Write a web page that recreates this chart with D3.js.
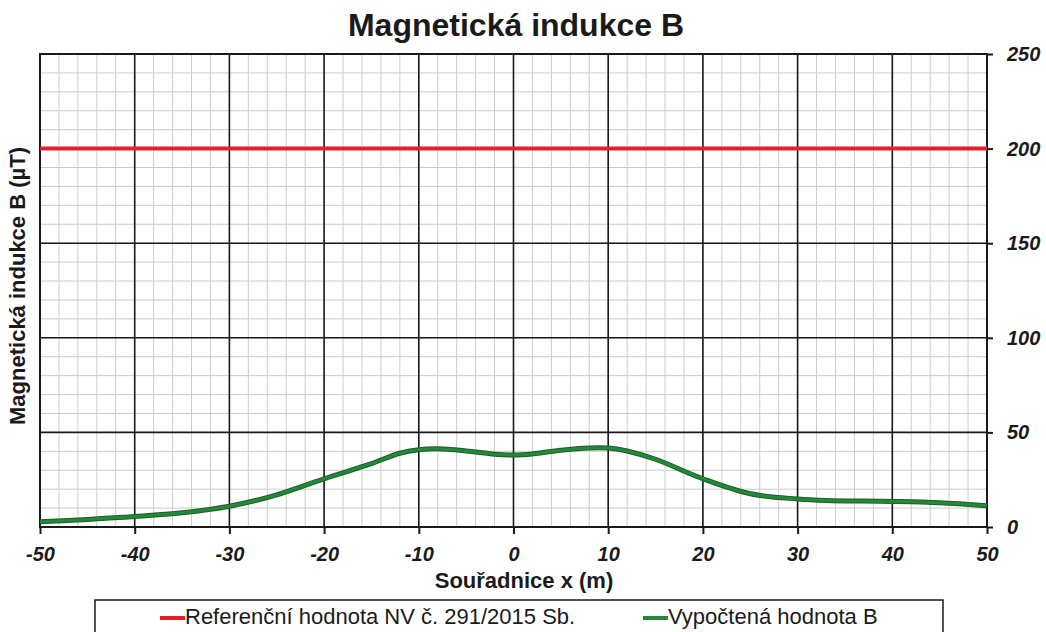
<!DOCTYPE html>
<html>
<head>
<meta charset="utf-8">
<script src="https://cdn.jsdelivr.net/npm/d3@7"></script>
<style>
  body { margin: 0; background: #fff; }
  svg { display: block; font-family: "Liberation Sans", Arial, sans-serif; }
</style>
</head>
<body>
<svg id="chart"></svg>
<script>
"use strict";

const W = 1046;
const H = 632;

// data
const xPos = [-50, -45, -40, -35, -30, -25, -20, -15, -12, -10, -8, -5, -2, 0, 2, 5, 8, 10, 12, 15, 20, 25, 30, 33, 40, 45, 50];
const bValues = [2.8, 4, 5.5, 7.5, 11, 17, 25.5, 33.5, 39, 40.8, 41.3, 40.2, 38.5, 38, 38.6, 40.6, 41.8, 41.8, 40.2, 35.8, 25.5, 17.6, 14.8, 14, 13.5, 12.8, 11.2];
const refX = [-50, 50];
const refValues = [200, 200];

const xTicks = [-50, -40, -30, -20, -10, 0, 10, 20, 30, 40, 50];
const yTicks = [0, 50, 100, 150, 200, 250];

const titleText = "Magnetická indukce B";
const xTitle = "Souřadnice x (m)";
const yTitle = "Magnetická indukce B (µT)";
const legendNames = ["Referenční hodnota NV č. 291/2015 Sb.", "Vypočtená hodnota B"];

const RED = "#e4202c";
const GREEN = "#23883a";

const pLeft = 40, pRight = 987, pTop = 54, pBottom = 527;

const svg = d3.select('#chart')
    .attr('width', W)
    .attr('height', H);

const x = d3.scaleLinear().domain([-50, 50]).range([pLeft, pRight]);
const y = d3.scaleLinear().domain([0, 250]).range([pBottom, pTop]);

// minor grid
const gridMinor = svg.append('g');
gridMinor.selectAll('line.vx')
    .data(d3.range(-50, 51, 2))
    .join('line')
    .attr('class', 'vx')
    .attr('x1', d => x(d)).attr('x2', d => x(d))
    .attr('y1', pTop).attr('y2', pBottom)
    .attr('stroke', '#cccccc')
    .attr('stroke-width', 1);
gridMinor.selectAll('line.hy')
    .data(d3.range(0, 251, 10))
    .join('line')
    .attr('class', 'hy')
    .attr('x1', pLeft).attr('x2', pRight)
    .attr('y1', d => y(d)).attr('y2', d => y(d))
    .attr('stroke', '#cccccc')
    .attr('stroke-width', 1);

// major grid
const gridMajor = svg.append('g');
gridMajor.selectAll('line.v')
    .data(xTicks)
    .join('line')
    .attr('class', 'v')
    .attr('x1', d => x(d)).attr('x2', d => x(d))
    .attr('y1', pTop).attr('y2', pBottom)
    .attr('stroke', '#1a1a1a')
    .attr('stroke-width', 1.6);
gridMajor.selectAll('line.h')
    .data(yTicks)
    .join('line')
    .attr('class', 'h')
    .attr('x1', pLeft).attr('x2', pRight)
    .attr('y1', d => y(d)).attr('y2', d => y(d))
    .attr('stroke', '#1a1a1a')
    .attr('stroke-width', 1.6);

// plot frame
svg.append('rect')
    .attr('x', pLeft).attr('y', pTop)
    .attr('width', pRight - pLeft).attr('height', pBottom - pTop)
    .attr('fill', 'none')
    .attr('stroke', '#1a1a1a')
    .attr('stroke-width', 2);

// axes
const xAxis = svg.append('g')
    .attr('transform', `translate(0,${pBottom})`)
    .call(d3.axisBottom(x).tickValues(xTicks).tickFormat(d => String(d)).tickSize(7).tickPadding(13));
const yAxis = svg.append('g')
    .attr('transform', `translate(${pRight},0)`)
    .call(d3.axisRight(y).tickValues(yTicks).tickFormat(d => String(d)).tickSize(6).tickPadding(14));

[xAxis, yAxis].forEach(ax => {
  ax.select('.domain').remove();
  ax.selectAll('.tick line').attr('stroke', '#1a1a1a').attr('stroke-width', 2);
  ax.selectAll('.tick text')
    .attr('fill', '#1a1a1a')
    .style('font-family', '"Liberation Sans", Arial, sans-serif')
    .style('font-size', '20px')
    .style('font-weight', 'bold')
    .style('font-style', 'italic');
});

// series
const line = d3.line()
    .x(d => x(d[0]))
    .y(d => y(d[1]))
    .curve(d3.curveCatmullRom.alpha(0.5));

svg.append('path')
    .datum(d3.zip(refX, refValues))
    .attr('d', line)
    .attr('fill', 'none')
    .attr('stroke', RED)
    .attr('stroke-width', 4);

svg.append('path')
    .datum(d3.zip(xPos, bValues))
    .attr('d', line)
    .attr('fill', 'none')
    .attr('stroke', '#1d5e2a')
    .attr('stroke-width', 5);
svg.append('path')
    .datum(d3.zip(xPos, bValues))
    .attr('d', line)
    .attr('fill', 'none')
    .attr('stroke', GREEN)
    .attr('stroke-width', 3);

// titles
svg.append('text')
    .attr('x', 516).attr('y', 36)
    .attr('text-anchor', 'middle')
    .style('font-size', '32px')
    .style('font-weight', 'bold')
    .attr('fill', '#1a1a1a')
    .text(titleText);

svg.append('text')
    .attr('x', 524).attr('y', 588)
    .attr('text-anchor', 'middle')
    .style('font-size', '22px')
    .style('font-weight', 'bold')
    .attr('fill', '#1a1a1a')
    .text(xTitle);

svg.append('text')
    .attr('transform', 'translate(25,286) rotate(-90)')
    .attr('text-anchor', 'middle')
    .style('font-size', '22px')
    .style('font-weight', 'bold')
    .attr('fill', '#1a1a1a')
    .text(yTitle);

// legend
svg.append('rect')
    .attr('x', 95).attr('y', 600)
    .attr('width', 848).attr('height', 40)
    .attr('fill', 'none')
    .attr('stroke', '#1a1a1a')
    .attr('stroke-width', 1.5);

const legendItems = [
  {name: legendNames[0], color: RED, x: 160},
  {name: legendNames[1], color: GREEN, x: 643}
];
const lg = svg.append('g').selectAll('g')
    .data(legendItems)
    .join('g')
    .attr('transform', d => `translate(${d.x},618)`);
lg.append('line')
    .attr('x1', 0).attr('x2', 25)
    .attr('y1', 0).attr('y2', 0)
    .attr('stroke', d => d.color)
    .attr('stroke-width', 4);
lg.append('text')
    .attr('x', 25).attr('y', 6)
    .style('font-size', '22px')
    .attr('fill', '#1a1a1a')
    .text(d => d.name);
</script>
</body>
</html>
